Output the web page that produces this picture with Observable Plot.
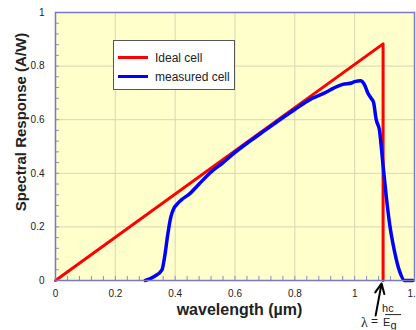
<!DOCTYPE html>
<html>
<head>
<meta charset="utf-8">
<script src="https://cdn.jsdelivr.net/npm/d3@7"></script>
<script src="https://cdn.jsdelivr.net/npm/@observablehq/plot@0.6"></script>
<style>
  html, body { margin: 0; padding: 0; background: #ffffff; }
  #chart svg { display: block; }
</style>
</head>
<body>
<div id="chart"></div>
<script>
// ---- data ----
const xTicks = [0, 0.2, 0.4, 0.6, 0.8, 1, 1.2];
const xTickLabels = ["0", "0.2", "0.4", "0.6", "0.8", "1", "1.2"];
const yTicks = [0, 0.2, 0.4, 0.6, 0.8, 1];
const yTickLabels = ["0", "0.2", "0.4", "0.6", "0.8", "1"];

const idealWavelength = [0, 1.095, 1.095];
const idealResponse   = [0, 0.883, 0];

const measuredWavelength = [0.30, 0.33, 0.356, 0.365, 0.375, 0.385, 0.395, 0.405, 0.42, 0.45, 0.48, 0.52, 0.56, 0.60, 0.65, 0.70, 0.75, 0.80, 0.85, 0.90, 0.93, 0.96, 0.99, 1.00, 1.02, 1.033, 1.044, 1.055, 1.063, 1.072, 1.083, 1.094, 1.106, 1.117, 1.133, 1.15, 1.167, 1.195];
const measuredResponse   = [0.00, 0.015, 0.04, 0.09, 0.17, 0.235, 0.268, 0.283, 0.30, 0.325, 0.36, 0.405, 0.44, 0.478, 0.52, 0.56, 0.60, 0.638, 0.675, 0.70, 0.718, 0.732, 0.737, 0.742, 0.745, 0.73, 0.70, 0.68, 0.665, 0.60, 0.56, 0.44, 0.31, 0.21, 0.11, 0.035, 0.0, 0.0];

const seriesNames = ["Ideal cell", "measured cell"];
const seriesColors = ["#ff0000", "#0000ff"];

const arrowStart = [1.07, -0.131];
const arrowEnd = [1.09, -0.011];

// ---- build tables ----
const ideal = idealWavelength.map((x, i) => ({x, y: idealResponse[i]}));
const measured = measuredWavelength.map((x, i) => ({x, y: measuredResponse[i]}));
const minorX = d3.range(0, 61).map(i => i * 0.04).filter(v => v < 1.2);
const minorY = d3.range(0, 26).map(i => i * 0.04).filter(v => v < 1);

const font = "'Liberation Sans', Arial, Helvetica, sans-serif";

const chart = Plot.plot({
  width: 416,
  height: 330,
  marginLeft: 55,
  marginRight: 2,
  marginTop: 12,
  marginBottom: 50,
  x: {domain: [0, 1.2]},
  y: {domain: [0, 1]},
  style: {fontFamily: font, fontSize: "10px", background: "#ffffff", color: "#222"},
  marks: [
    Plot.frame({fill: "#ffffcc", stroke: null}),
    Plot.gridX(xTicks.slice(1, -1), {stroke: "#d6d6b4", strokeOpacity: 1, strokeWidth: 1}),
    Plot.gridY(yTicks.slice(1, -1), {stroke: "#d6d6b4", strokeOpacity: 1, strokeWidth: 1}),
    Plot.ruleX(minorX, {x: d => d, y1: 0, y2: 0.015, stroke: "#8c8cbc", strokeWidth: 1}),
    Plot.ruleY(minorY, {y: d => d, x1: 0, x2: 0.013, stroke: "#8c8cbc", strokeWidth: 1}),
    Plot.line(ideal, {x: "x", y: "y", stroke: seriesColors[0], strokeWidth: 3}),
    Plot.line(measured, {x: "x", y: "y", stroke: seriesColors[1], strokeWidth: 3.5, curve: "monotone-x"}),
    Plot.frame({stroke: "#7878c4", strokeWidth: 1.5}),
    Plot.axisX(xTicks, {tickFormat: d => xTickLabels[xTicks.indexOf(d)], tickSize: 0, tickPadding: 9, label: null}),
    Plot.axisY(yTicks, {tickFormat: d => yTickLabels[yTicks.indexOf(d)], tickSize: 0, tickPadding: 11, label: null}),
    Plot.arrow([{x1: arrowStart[0], y1: arrowStart[1], x2: arrowEnd[0], y2: arrowEnd[1]}],
      {x1: "x1", y1: "y1", x2: "x2", y2: "y2", stroke: "#000", strokeWidth: 2, headLength: 9, headAngle: 50})
  ]
});

document.getElementById("chart").appendChild(chart);

const svg = d3.select(chart);
const sx = chart.scale("x"), sy = chart.scale("y");

// axis titles
svg.append("text")
  .attr("x", (sx.apply(0) + sx.apply(1.2)) / 2 + 5)
  .attr("y", 315)
  .attr("text-anchor", "middle")
  .attr("font-family", font)
  .attr("font-weight", "bold")
  .attr("font-size", 16)
  .attr("fill", "#222")
  .text("wavelength (µm)");

svg.append("text")
  .attr("transform", `translate(26,122) rotate(-90)`)
  .attr("text-anchor", "middle")
  .attr("font-family", font)
  .attr("font-weight", "bold")
  .attr("font-size", 15)
  .attr("fill", "#222")
  .text("Spectral Response (A/W)");

// legend
const lg = svg.append("g").attr("text-anchor", "start");
lg.append("rect").attr("x", 113.5).attr("y", 40.5).attr("width", 121).attr("height", 49)
  .attr("fill", "#ffffff").attr("stroke", "#555").attr("stroke-width", 1);
seriesNames.forEach((name, i) => {
  const yy = 57.5 + i * 19;
  lg.append("line").attr("x1", 118).attr("x2", 148).attr("y1", yy).attr("y2", yy)
    .attr("stroke", seriesColors[i]).attr("stroke-width", 3);
  lg.append("text").attr("x", 155).attr("y", yy + 4.3).attr("text-anchor", "start")
    .attr("font-family", font).attr("font-size", 12).attr("fill", "#222").text(name);
});

// annotation: lambda = hc / Eg
const ax = sx.apply(arrowStart[0]);
const ay = sy.apply(arrowStart[1]);
const ann = svg.append("g").attr("fill", "#222").attr("text-anchor", "start");
ann.append("text").attr("x", ax - 14).attr("y", ay + 12)
  .attr("font-family", "'Liberation Serif', 'Times New Roman', serif").attr("font-size", 14).text("λ");
ann.append("text").attr("x", ax - 4).attr("y", ay + 10)
  .attr("font-family", font).attr("font-size", 12).text("=");
ann.append("text").attr("x", ax + 7).attr("y", ay - 3)
  .attr("font-family", font).attr("font-size", 11).text("hc");
ann.append("line").attr("x1", ax + 10).attr("x2", ax + 26).attr("y1", ay - 0.5).attr("y2", ay - 0.5)
  .attr("stroke", "#222").attr("stroke-width", 1);
const eg = ann.append("text").attr("x", ax + 8).attr("y", ay + 11)
  .attr("font-family", font).attr("font-size", 11);
eg.append("tspan").text("E");
eg.append("tspan").attr("dy", 3).text("g");
</script>
</body>
</html>
